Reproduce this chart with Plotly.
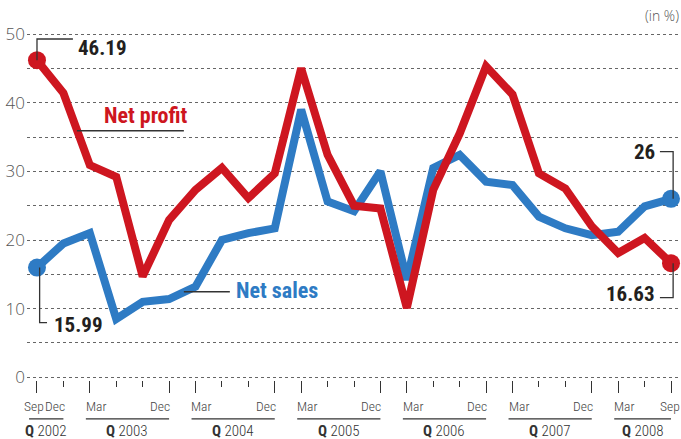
import plotly.graph_objects as go

quarters = ["Sep 2002", "Dec 2002", "Mar 2003", "Jun 2003", "Sep 2003", "Dec 2003",
            "Mar 2004", "Jun 2004", "Sep 2004", "Dec 2004", "Mar 2005", "Jun 2005",
            "Sep 2005", "Dec 2005", "Mar 2006", "Jun 2006", "Sep 2006", "Dec 2006",
            "Mar 2007", "Jun 2007", "Sep 2007", "Dec 2007", "Mar 2008", "Jun 2008",
            "Sep 2008"]
net_profit = [46.19, 41.4, 30.9, 29.2, 14.7, 22.9, 27.3, 30.5, 26.1, 29.7, 45.0, 32.4,
              25.0, 24.6, 10.1, 27.3, 35.5, 45.3, 41.2, 29.7, 27.5, 22.0, 18.1, 20.3, 16.63]
net_sales = [15.99, 19.5, 21.0, 8.5, 11.0, 11.4, 13.2, 20.0, 21.0, 21.7, 39.0, 25.6,
             24.2, 30.0, 14.2, 30.5, 32.4, 28.5, 28.0, 23.4, 21.7, 20.7, 21.2, 24.9, 26]
y_ticks = [0, 10, 20, 30, 40, 50]
month_labels = [(0, "Sep"), (1, "Dec"), (2, "Mar"), (5, "Dec"), (6, "Mar"), (9, "Dec"),
                (10, "Mar"), (13, "Dec"), (14, "Mar"), (17, "Dec"), (18, "Mar"),
                (21, "Dec"), (22, "Mar"), (24, "Sep")]
years = [("2002", 0, 1), ("2003", 2, 5), ("2004", 6, 9), ("2005", 10, 13),
         ("2006", 14, 17), ("2007", 18, 21), ("2008", 22, 24)]
major_ticks = [0, 2, 5, 6, 9, 10, 13, 14, 17, 18, 21, 22, 24]

RED = "#CE1620"
BLUE = "#2E7BC4"
DARK = "#231F20"
NARROW = "Roboto Condensed, Roboto, sans-serif"
LIGHT = "Open Sans, Roboto, sans-serif"

n = len(quarters)
x = list(range(n))

fig = go.Figure()
fig.add_trace(go.Scatter(x=x, y=net_sales, mode="lines", name="Net sales",
                         line=dict(color=BLUE, width=8), hoverinfo="skip"))
fig.add_trace(go.Scatter(x=[x[0], x[-1]], y=[net_sales[0], net_sales[-1]], mode="markers",
                         marker=dict(size=18, color=BLUE), hoverinfo="skip"))
fig.add_trace(go.Scatter(x=x, y=net_profit, mode="lines", name="Net profit",
                         line=dict(color=RED, width=8), hoverinfo="skip"))
fig.add_trace(go.Scatter(x=[x[0], x[-1]], y=[net_profit[0], net_profit[-1]], mode="markers",
                         marker=dict(size=18, color=RED), hoverinfo="skip"))

minor_ticks = [i for i in x if i not in major_ticks]

fig.update_layout(
    width=681, height=439,
    margin=dict(l=27, r=0, t=20, b=59, autoexpand=False),
    paper_bgcolor="white", plot_bgcolor="white",
    showlegend=False,
    xaxis=dict(range=[-0.378, 24.378], showgrid=False, zeroline=False, showline=False,
               tickmode="array", tickvals=major_ticks, showticklabels=False,
               ticks="outside", ticklen=12, tickwidth=1.4, tickcolor="#333",
               minor=dict(tickmode="array", tickvals=minor_ticks, ticks="outside",
                          ticklen=6, tickwidth=1.4, tickcolor="#333")),
    yaxis=dict(range=[-0.39, 52.04], zeroline=False, showline=False,
               tickmode="array", tickvals=list(range(0, 51, 5)),
               ticktext=[str(v) if v in y_ticks else "" for v in range(0, 51, 5)],
               showgrid=True, gridcolor="#666", griddash="dot", gridwidth=1,
               ticks="", ticklabelstandoff=1,
               tickfont=dict(family=LIGHT, size=17, color="#555", weight=300)),
)

line_style = dict(color="#333", width=1.3)

# connectors for end values
fig.add_shape(type="path", xref="x", yref="y",
              path=f"M 0 {net_profit[0]} L 0 49.27 L 1.36 49.27", line=line_style)
fig.add_shape(type="path", xref="x", yref="y",
              path=f"M 0.1 {net_sales[0]} L 0.1 7.96 L 0.38 7.96", line=line_style)
fig.add_shape(type="path", xref="x", yref="y",
              path=f"M 24.08 {net_sales[-1]} L 24.08 32.86 L 23.58 32.86", line=line_style)
fig.add_shape(type="path", xref="x", yref="y",
              path=f"M 24.08 {net_profit[-1]} L 24.08 11.6 L 23.58 11.6", line=line_style)
# series label leaders
fig.add_shape(type="line", xref="x", yref="y", x0=1.51, x1=5.56, y0=35.9, y1=35.9,
              line=dict(color="#333", width=1.5))
fig.add_shape(type="line", xref="x", yref="y", x0=5.56, x1=7.3, y0=12.47, y1=12.47,
              line=dict(color="#333", width=1.5))

def num(text, xv, yv, anchor):
    fig.add_annotation(x=xv, y=yv, xref="x", yref="y", text=f"<b>{text}</b>",
                       showarrow=False, xanchor=anchor, yanchor="middle",
                       font=dict(family=NARROW, size=21, color=DARK))

num(f"{net_profit[0]:.2f}", 1.48, 47.96, "left")
num(f"{net_sales[0]:.2f}", 0.55, 7.6, "left")
num(f"{net_sales[-1]:g}", 23.48, 32.8, "right")
num(f"{net_profit[-1]:.2f}", 23.48, 12.2, "right")

fig.add_annotation(x=4.11, y=38.2, xref="x", yref="y", text="<b>Net profit</b>",
                   showarrow=False, yanchor="middle",
                   font=dict(family=NARROW, size=22, color=RED))
fig.add_annotation(x=9.08, y=12.7, xref="x", yref="y", text="<b>Net sales</b>",
                   showarrow=False, yanchor="middle",
                   font=dict(family=NARROW, size=22, color=BLUE))

fig.add_annotation(x=1, y=1.0, xref="paper", yref="paper", text="(in %)",
                   showarrow=False, xanchor="right", yanchor="middle", yshift=5,
                   font=dict(family=LIGHT, size=14, color="#555", weight=300))

# month labels
for idx, lab in month_labels:
    if idx == 0:
        anchor, shift = "center", -3
    elif idx == n - 1:
        anchor, shift = "right", 10
    elif lab == "Mar":
        anchor, shift = "left", -5
    elif idx == 1:
        anchor, shift = "right", 3
    else:
        anchor, shift = "right", 2
    fig.add_annotation(x=idx, y=-0.072, xref="x", yref="paper", text=lab,
                       showarrow=False, xanchor=anchor, yanchor="middle", xshift=shift,
                       borderpad=0,
                       font=dict(family=NARROW, size=13.5, color="#444", weight=300))

# year labels with underline
for yr, a, b in years:
    x0 = a - 0.3 if a == 0 else a - 0.15
    fig.add_shape(type="line", xref="x", yref="paper", x0=x0, x1=b, y0=-0.108, y1=-0.108,
                  line=dict(color="#333", width=1.3))
    fig.add_annotation(x=(x0 + b) / 2, y=-0.142, xref="x", yref="paper",
                       text=f"<b>Q</b> {yr}", showarrow=False, yanchor="middle",
                       font=dict(family=NARROW, size=15, color="#333", weight=300))

fig.write_html("out.html", config={"displayModeBar": False},
               post_script="document.body.style.margin='0';")
